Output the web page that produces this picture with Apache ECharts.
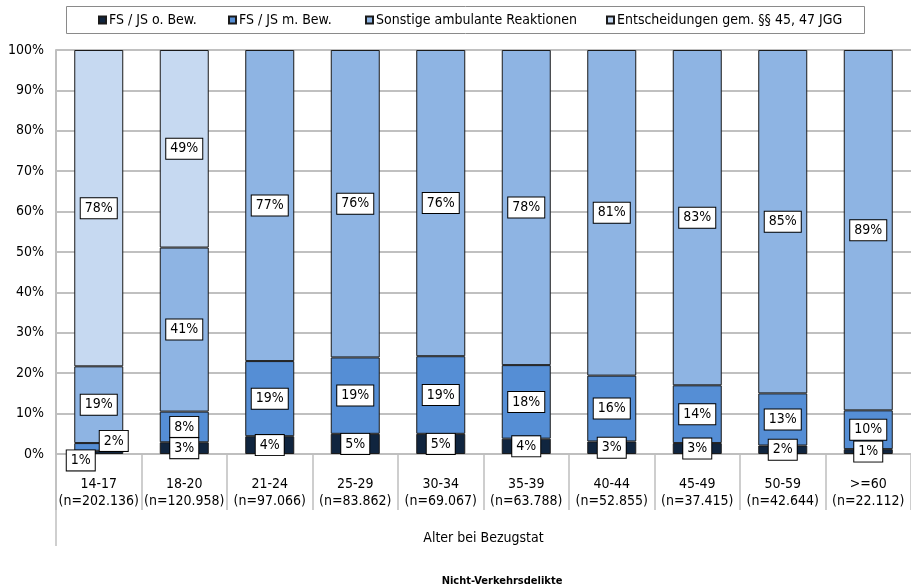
<!DOCTYPE html>
<html>
<head>
<meta charset="utf-8">
<script src="https://cdn.jsdelivr.net/npm/echarts@6/dist/echarts.min.js"></script>
<style>
  html, body { margin: 0; padding: 0; background: #ffffff; }
  #chart { width: 911px; height: 588px; }
</style>
</head>
<body>
<div id="chart"></div>
<script>
// Age groups and case counts
const ageGroups = ['14-17', '18-20', '21-24', '25-29', '30-34', '35-39', '40-44', '45-49', '50-59', '>=60'];
const caseCounts = ['202.136', '120.958', '97.066', '83.862', '69.067', '63.788', '52.855', '37.415', '42.644', '22.112'];

// Shares in percent per reaction type
const fsOhneBew = [0.8, 2.9, 4.4, 5.0, 5.0, 3.8, 3.1, 2.7, 2.1, 1.2];
const fsMitBew = [1.9, 7.6, 18.6, 18.9, 19.2, 18.2, 16.3, 14.3, 12.9, 9.6];
const sonstige = [19.0, 40.6, 77.0, 76.1, 75.8, 78.0, 80.6, 83.0, 85.0, 89.2];
const entscheidungen = [78.3, 48.9, null, null, null, null, null, null, null, null];

const seriesNames = ['FS / JS o. Bew.', 'FS / JS m. Bew.', 'Sonstige ambulante Reaktionen', 'Entscheidungen gem. §§ 45, 47 JGG'];
const seriesColors = ['#10253F', '#558ED5', '#8EB4E3', '#C6D9F1'];
// left edge of each legend entry inside the framed legend strip
const legendLefts = [98, 228, 365, 606];

const FONT = '"Liberation Sans Narrow", "DejaVu Sans Condensed", "Liberation Sans", sans-serif';

const labelBox = {
  show: true,
  position: 'inside',
  formatter: p => Math.round(p.value) + '%',
  color: '#000',
  fontSize: 14,
  fontFamily: FONT,
  backgroundColor: '#ffffff',
  borderColor: '#000000',
  borderWidth: 1,
  padding: [4, 4, 2, 4]
};

function toData(values, offsets) {
  return values.map((v, i) => {
    if (offsets && offsets[i]) {
      return { value: v, label: { offset: offsets[i] } };
    }
    return v;
  });
}

function barSeries(idx, values, offsets) {
  return {
    name: seriesNames[idx],
    type: 'bar',
    stack: 'total',
    barWidth: 49,
    data: toData(values, offsets),
    itemStyle: { color: seriesColors[idx], borderColor: '#1a1a1a', borderWidth: 1 },
    label: labelBox,
    emphasis: { disabled: true }
  };
}

const legends = seriesNames.map((name, i) => ({
  data: [name],
  top: 13,
  left: legendLefts[i],
  padding: 0,
  icon: 'rect',
  itemWidth: 7,
  itemHeight: 7,
  itemGap: 4,
  selectedMode: false,
  textStyle: { fontSize: 14, color: '#000', fontFamily: FONT, padding: [0, 0, 0, -2] }
}));

const chart = echarts.init(document.getElementById('chart'));
chart.setOption({
  animation: false,
  textStyle: { fontFamily: FONT },
  grid: { left: 56, right: -5, top: 50, bottom: 134, containLabel: false },
  legend: legends,
  title: {
    text: 'Nicht-Verkehrsdelikte',
    left: 497,
    textAlign: 'center',
    top: 571,
    textStyle: { fontSize: 11, fontWeight: 'bold', color: '#000', fontFamily: FONT }
  },
  xAxis: {
    type: 'category',
    data: ageGroups,
    name: 'Alter bei Bezugstat',
    nameLocation: 'middle',
    nameGap: 77,
    nameTextStyle: { fontSize: 14, color: '#000', fontFamily: FONT },
    axisLine: { lineStyle: { color: '#bfbfbf', width: 2 } },
    axisTick: { show: true, length: 56, lineStyle: { color: '#bfbfbf', width: 1.5 } },
    axisLabel: {
      interval: 0,
      margin: 22,
      fontSize: 14,
      lineHeight: 17,
      color: '#000',
      formatter: (v, i) => v + '\n(n=' + caseCounts[i] + ')'
    }
  },
  yAxis: {
    type: 'value',
    min: 0,
    max: 100,
    interval: 10,
    axisLine: { show: true, lineStyle: { color: '#bfbfbf', width: 2 } },
    axisTick: { show: false },
    splitLine: { lineStyle: { color: '#c0c0c0', width: 2 } },
    axisLabel: { formatter: '{value}%', fontSize: 14, color: '#000', margin: 12 }
  },
  graphic: [
    {
      type: 'line',
      shape: { x1: 56, y1: 454, x2: 56, y2: 546 },
      style: { stroke: '#bfbfbf', lineWidth: 1.5 }
    },
    {
      type: 'rect',
      shape: { x: 66.5, y: 6.5, width: 798, height: 27 },
      style: { fill: null, stroke: '#8a8a8a', lineWidth: 1 },
      z: -1
    }
  ],
  series: [
    barSeries(0, fsOhneBew, { 0: [-18, 8] }),
    barSeries(1, fsMitBew, { 0: [15, -6] }),
    barSeries(2, sonstige),
    barSeries(3, entscheidungen)
  ]
});
</script>
</body>
</html>
